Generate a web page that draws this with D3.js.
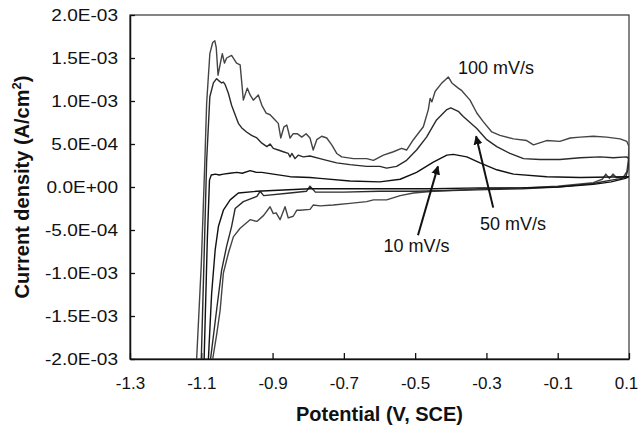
<!DOCTYPE html>
<html>
<head>
<meta charset="utf-8">
<script src="https://cdn.jsdelivr.net/npm/d3@7"></script>
<style>
  body { margin: 0; background: #fff; }
  svg text { font-family: "Liberation Sans", Arial, sans-serif; fill: #111; }
</style>
</head>
<body>
<svg width="639" height="427"></svg>
<script>
(function () {
    'use strict';

    // potential (V, SCE) vs current density (x1e-3 A/cm2), forward then reverse scan
    const cv100 = [
        [-1.113, -2.0], [-1.100, -0.9], [-1.090, 0.3], [-1.085, 0.97], [-1.076, 1.55], [-1.068, 1.68],
        [-1.062, 1.70], [-1.058, 1.62], [-1.053, 1.30], [-1.046, 1.45], [-1.041, 1.55], [-1.035, 1.44],
        [-1.029, 1.50], [-1.015, 1.53], [-1.001, 1.44], [-0.991, 1.42], [-0.982, 1.01], [-0.971, 1.15],
        [-0.963, 1.07], [-0.954, 1.01], [-0.940, 1.07], [-0.930, 0.95], [-0.918, 0.86], [-0.907, 0.84],
        [-0.893, 0.78], [-0.884, 0.74], [-0.877, 0.57], [-0.868, 0.70], [-0.860, 0.72], [-0.851, 0.57],
        [-0.842, 0.62], [-0.831, 0.62], [-0.818, 0.58], [-0.806, 0.62], [-0.795, 0.57], [-0.786, 0.43],
        [-0.776, 0.55], [-0.762, 0.59], [-0.748, 0.57], [-0.734, 0.49], [-0.720, 0.39], [-0.706, 0.35],
        [-0.673, 0.33], [-0.636, 0.33], [-0.617, 0.31], [-0.589, 0.37], [-0.561, 0.41], [-0.538, 0.45],
        [-0.524, 0.43], [-0.505, 0.55], [-0.477, 0.70], [-0.463, 0.90], [-0.458, 1.03], [-0.453, 0.99],
        [-0.444, 1.11], [-0.425, 1.21], [-0.407, 1.28], [-0.397, 1.21], [-0.379, 1.15], [-0.369, 1.12],
        [-0.346, 1.01], [-0.327, 0.86], [-0.309, 0.76], [-0.285, 0.64], [-0.262, 0.60], [-0.224, 0.56],
        [-0.187, 0.54], [-0.168, 0.49], [-0.131, 0.54], [-0.094, 0.53], [-0.065, 0.57], [-0.037, 0.58],
        [0.000, 0.59], [0.037, 0.58], [0.075, 0.56], [0.094, 0.53], [0.100, 0.47],
        [0.098, 0.30], [0.094, 0.18], [0.085, 0.12], [0.065, 0.11], [0.055, 0.15], [0.045, 0.10],
        [0.035, 0.15], [0.025, 0.09], [0.000, 0.05], [-0.050, 0.03], [-0.100, 0.01], [-0.200, -0.01],
        [-0.318, -0.02], [-0.355, -0.03], [-0.449, -0.05], [-0.505, -0.07], [-0.542, -0.10], [-0.580, -0.15],
        [-0.617, -0.15], [-0.636, -0.17], [-0.683, -0.19], [-0.730, -0.21], [-0.767, -0.22], [-0.786, -0.21],
        [-0.795, -0.26], [-0.823, -0.27], [-0.832, -0.27], [-0.842, -0.34], [-0.856, -0.36], [-0.865, -0.23],
        [-0.879, -0.38], [-0.890, -0.30], [-0.898, -0.31], [-0.907, -0.23], [-0.925, -0.33], [-0.944, -0.40],
        [-0.963, -0.38], [-0.991, -0.48], [-1.010, -0.58], [-1.024, -0.77], [-1.038, -1.00], [-1.047, -1.43],
        [-1.057, -1.72], [-1.068, -2.0]
    ];

    const cv50 = [
        [-1.100, -2.0], [-1.092, -0.8], [-1.085, 0.3], [-1.076, 1.05], [-1.066, 1.21], [-1.057, 1.26],
        [-1.052, 1.24], [-1.043, 1.21], [-1.038, 1.22], [-1.033, 1.19], [-1.024, 1.09], [-1.015, 0.95],
        [-1.005, 0.84], [-0.996, 0.74], [-0.987, 0.69], [-0.973, 0.64], [-0.959, 0.60], [-0.944, 0.57],
        [-0.930, 0.51], [-0.916, 0.47], [-0.907, 0.50], [-0.898, 0.45], [-0.884, 0.43], [-0.870, 0.41],
        [-0.856, 0.39], [-0.851, 0.35], [-0.846, 0.39], [-0.837, 0.33], [-0.828, 0.37], [-0.814, 0.35],
        [-0.795, 0.36], [-0.767, 0.33], [-0.748, 0.31], [-0.720, 0.28], [-0.683, 0.26], [-0.636, 0.24],
        [-0.599, 0.24], [-0.580, 0.22], [-0.552, 0.24], [-0.524, 0.31], [-0.496, 0.43], [-0.468, 0.58],
        [-0.440, 0.78], [-0.411, 0.90], [-0.400, 0.92], [-0.379, 0.88], [-0.365, 0.82], [-0.327, 0.68],
        [-0.299, 0.55], [-0.271, 0.47], [-0.234, 0.39], [-0.196, 0.33], [-0.150, 0.32], [-0.094, 0.32],
        [-0.037, 0.34], [0.019, 0.35], [0.056, 0.34], [0.093, 0.35], [0.100, 0.33],
        [0.097, 0.20], [0.092, 0.13], [0.080, 0.10], [0.050, 0.08], [0.000, 0.04], [-0.100, 0.00],
        [-0.200, -0.02], [-0.300, -0.03], [-0.400, -0.04], [-0.500, -0.05], [-0.600, -0.05], [-0.700, -0.06],
        [-0.780, -0.06], [-0.795, 0.01], [-0.805, -0.05], [-0.851, -0.07], [-0.925, -0.10], [-0.935, -0.05],
        [-0.944, -0.11], [-0.982, -0.17], [-1.005, -0.25], [-1.015, -0.46], [-1.029, -0.69], [-1.043, -0.97],
        [-1.057, -1.43], [-1.074, -2.0]
    ];

    const cv10 = [
        [-1.092, -2.0], [-1.083, -0.6], [-1.077, 0.08], [-1.072, 0.14], [-1.060, 0.15], [-1.050, 0.14],
        [-1.038, 0.15], [-1.020, 0.16], [-1.000, 0.17], [-0.985, 0.16], [-0.963, 0.19], [-0.945, 0.17],
        [-0.930, 0.17], [-0.898, 0.15], [-0.851, 0.12], [-0.795, 0.11], [-0.767, 0.10], [-0.683, 0.07],
        [-0.599, 0.06], [-0.542, 0.09], [-0.496, 0.17], [-0.449, 0.29], [-0.411, 0.37], [-0.393, 0.38],
        [-0.355, 0.35], [-0.318, 0.28], [-0.271, 0.20], [-0.224, 0.15], [-0.131, 0.12], [-0.037, 0.11],
        [0.093, 0.12], [0.100, 0.12],
        [0.090, 0.10], [0.050, 0.06], [0.000, 0.03], [-0.100, 0.00], [-0.200, -0.01], [-0.318, -0.01],
        [-0.449, -0.02], [-0.600, -0.02], [-0.795, -0.02], [-0.944, -0.05], [-0.996, -0.07], [-1.019, -0.15],
        [-1.038, -0.27], [-1.052, -0.46], [-1.061, -0.73], [-1.071, -1.24], [-1.080, -2.0]
    ];

    const xTicks = [-1.3, -1.1, -0.9, -0.7, -0.5, -0.3, -0.1, 0.1];
    const xTickLabels = ['-1.3', '-1.1', '-0.9', '-0.7', '-0.5', '-0.3', '-0.1', '0.1'];
    const yTicks = [-2.0, -1.5, -1.0, -0.5, 0.0, 0.5, 1.0, 1.5, 2.0];
    const yTickLabels = ['-2.0E-03', '-1.5E-03', '-1.0E-03', '-5.0E-04', '0.0E+00',
        '5.0E-04', '1.0E-03', '1.5E-03', '2.0E-03'];

    // annotation labels: text, potential, current (left edge / baseline)
    const labels = [
        ['100 mV/s', -0.380, 1.31],
        ['50 mV/s', -0.318, -0.50],
        ['10 mV/s', -0.589, -0.75]
    ];
    // arrows: from [v, i] to [v, i]
    const arrows = [
        [[-0.492, -0.56], [-0.436, 0.24]],
        [[-0.281, -0.24], [-0.329, 0.59]]
    ];

    const width = 639;
    const height = 427;
    const margin = ({ top: 15, right: 10, bottom: 68, left: 130 });

    const x = d3.scaleLinear()
        .domain([-1.3, 0.1])
        .range([margin.left, width - margin.right]);

    const y = d3.scaleLinear()
        .domain([-2, 2])
        .range([height - margin.bottom, margin.top]);

    const svg = d3.select('svg');

    svg.append('defs').append('clipPath').attr('id', 'plot-clip')
        .append('rect')
        .attr('x', margin.left).attr('y', margin.top)
        .attr('width', width - margin.left - margin.right)
        .attr('height', height - margin.top - margin.bottom);

    const marker = svg.select('defs').append('marker')
        .attr('id', 'arrowhead')
        .attr('viewBox', '0 0 10 10')
        .attr('refX', 9).attr('refY', 5)
        .attr('markerWidth', 9).attr('markerHeight', 9)
        .attr('markerUnits', 'userSpaceOnUse')
        .attr('orient', 'auto');
    marker.append('path').attr('d', 'M0,0L10,5L0,10Z').attr('fill', '#111');

    // frame
    svg.append('rect')
        .attr('x', margin.left).attr('y', margin.top)
        .attr('width', width - margin.left - margin.right)
        .attr('height', height - margin.top - margin.bottom)
        .attr('fill', 'none')
        .attr('stroke', '#444')
        .attr('stroke-width', 1.3);

    const xAxis = g => g
        .attr('transform', `translate(0,${height - margin.bottom})`)
        .call(d3.axisBottom(x).tickValues(xTicks)
            .tickFormat((d, i) => xTickLabels[i])
            .tickSizeInner(-6).tickSizeOuter(0).tickPadding(18))
        .call(g => g.select('.domain').attr('stroke', '#111').attr('stroke-width', 1.5))
        .call(g => g.selectAll('.tick line').attr('stroke', '#111').attr('stroke-width', 1.3))
        .call(g => g.selectAll('.tick text').attr('font-size', 17).attr('fill', '#111'))
        .call(g => g.selectAll('.tick:last-of-type text').attr('dx', -3));

    const yAxis = g => g
        .attr('transform', `translate(${margin.left},0)`)
        .call(d3.axisLeft(y).tickValues(yTicks)
            .tickFormat((d, i) => yTickLabels[i])
            .tickSizeInner(-5).tickSizeOuter(0).tickPadding(12))
        .call(g => g.select('.domain').attr('stroke', '#111').attr('stroke-width', 1.5))
        .call(g => g.selectAll('.tick line').attr('stroke', '#111').attr('stroke-width', 1.3))
        .call(g => g.selectAll('.tick text').attr('font-size', 17).attr('fill', '#111'));

    svg.append('g').call(xAxis);
    const yg = svg.append('g').call(yAxis);

    // the reference's y labels are drawn a little wider than normal glyphs
    yg.selectAll('.tick text').each(function () {
        const w = this.getComputedTextLength();
        d3.select(this)
            .attr('textLength', w * 1.12)
            .attr('lengthAdjust', 'spacingAndGlyphs');
    });

    const line = d3.line().x(d => x(d[0])).y(d => y(d[1]));

    const plots = svg.append('g').attr('clip-path', 'url(#plot-clip)');
    const series = [
        { data: cv100, color: '#444' },
        { data: cv50, color: '#2a2a2a' },
        { data: cv10, color: '#111' }
    ];
    plots.selectAll('path')
        .data(series)
        .join('path')
        .attr('d', d => line(d.data))
        .attr('fill', 'none')
        .attr('stroke', d => d.color)
        .attr('stroke-width', 1.4)
        .attr('stroke-linejoin', 'round');

    svg.append('g').selectAll('line')
        .data(arrows)
        .join('line')
        .attr('x1', d => x(d[0][0])).attr('y1', d => y(d[0][1]))
        .attr('x2', d => x(d[1][0])).attr('y2', d => y(d[1][1]))
        .attr('stroke', '#111')
        .attr('stroke-width', 2)
        .attr('marker-end', 'url(#arrowhead)');

    svg.append('g').selectAll('text')
        .data(labels)
        .join('text')
        .attr('x', d => x(d[1]))
        .attr('y', d => y(d[2]))
        .attr('font-size', 18)
        .text(d => d[0]);

    svg.append('text')
        .attr('x', (margin.left + width - margin.right) / 2)
        .attr('y', 421)
        .attr('text-anchor', 'middle')
        .attr('font-size', 20)
        .attr('font-weight', 'bold')
        .text('Potential (V, SCE)');

    const yTitle = svg.append('text')
        .attr('transform', `translate(29,${(margin.top + height - margin.bottom) / 2}) rotate(-90)`)
        .attr('text-anchor', 'middle')
        .attr('font-size', 20)
        .attr('font-weight', 'bold');
    yTitle.append('tspan').text('Current density (A/cm');
    yTitle.append('tspan').attr('font-size', 13).attr('dy', -8).text('2');
    yTitle.append('tspan').attr('dy', 8).text(')');
})();
</script>
</body>
</html>
